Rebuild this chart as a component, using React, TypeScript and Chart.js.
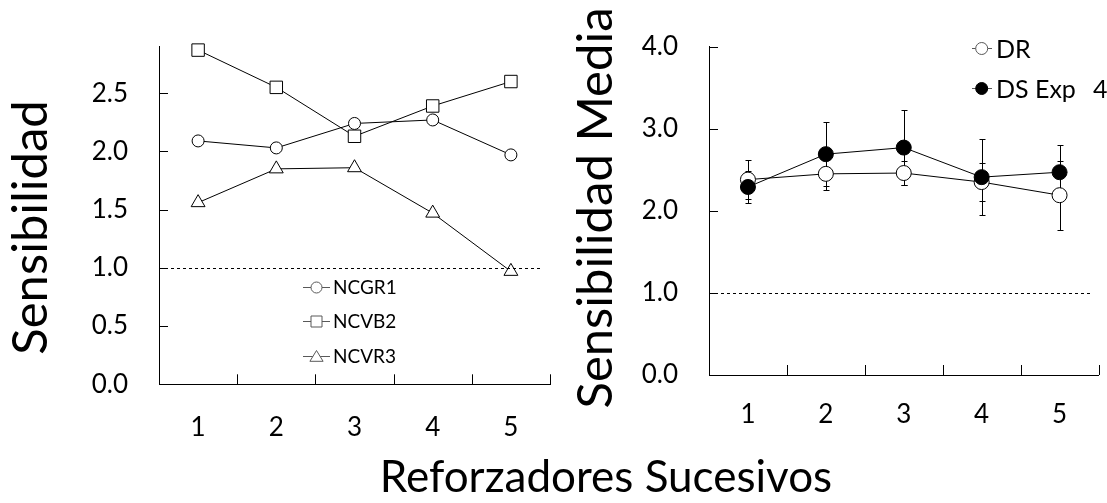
import React, { useEffect, useRef } from "react";
import { Chart, registerables } from "chart.js";

Chart.register(...registerables);

const FONT = "Lato, 'Open Sans', sans-serif";

// ---- data ----
const categories = ["1", "2", "3", "4", "5"];
const ncgr1 = [2.09, 2.03, 2.24, 2.27, 1.97];
const ncvb2 = [2.87, 2.55, 2.13, 2.39, 2.6];
const ncvr3 = [1.56, 1.85, 1.86, 1.47, 0.97];
const leftYTicks = [0, 0.5, 1.0, 1.5, 2.0, 2.5];
const leftYMax = 2.9;

const drMeans = [2.38, 2.45, 2.46, 2.35, 2.19];
const drErr = [0.24, 0.2, 0.15, 0.23, 0.42];
const dsMeans = [2.29, 2.69, 2.77, 2.41, 2.47];
const dsErr = [0.2, 0.39, 0.46, 0.46, 0.33];
const rightYTicks = [0, 1, 2, 3, 4];
const rightYMax = 4;

const referenceValue = 1.0;
const leftTitle = "Sensibilidad";
const rightTitle = "Sensibilidad Media";
const xTitle = "Reforzadores Sucesivos";
const leftLegend = ["NCGR1", "NCVB2", "NCVR3"];
const rightLegend = ["DR", "DS Exp"];

function drawMarker(ctx: CanvasRenderingContext2D, style: string, x: number, y: number, r: number, fill: string, stroke: string) {
  ctx.save();
  ctx.fillStyle = fill;
  ctx.strokeStyle = stroke;
  ctx.lineWidth = 1;
  ctx.beginPath();
  if (style === "circle") {
    ctx.arc(x, y, r, 0, Math.PI * 2);
  } else if (style === "rect") {
    ctx.rect(x - r, y - r, 2 * r, 2 * r);
  } else {
    ctx.moveTo(x, y - r);
    ctx.lineTo(x + r * 1.1, y + r * 0.8);
    ctx.lineTo(x - r * 1.1, y + r * 0.8);
    ctx.closePath();
  }
  ctx.fill();
  ctx.stroke();
  ctx.restore();
}

function inwardTicks(chart: any, skipTop: boolean) {
  const ctx = chart.ctx as CanvasRenderingContext2D;
  const x = chart.scales.x;
  const y = chart.scales.y;
  const area = chart.chartArea;
  ctx.save();
  ctx.strokeStyle = "#000";
  ctx.lineWidth = 1;
  const n = x.ticks.length;
  for (let i = 1; i <= n; i++) {
    const px = Math.round(x.left + (i * x.width) / n) + 0.5;
    ctx.beginPath();
    ctx.moveTo(px, area.bottom);
    ctx.lineTo(px, area.bottom - 10);
    ctx.stroke();
  }
  y.ticks.forEach((t: any) => {
    if (t.value === 0) return;
    const py = Math.round(y.getPixelForValue(t.value)) + 0.5;
    ctx.beginPath();
    ctx.moveTo(area.left, py);
    ctx.lineTo(area.left + 9, py);
    ctx.stroke();
  });
  if (!skipTop) {
    const py = Math.round(area.top) + 0.5;
    ctx.beginPath();
    ctx.moveTo(area.left, py);
    ctx.lineTo(area.left + 9, py);
    ctx.stroke();
  }
  // dashed reference line
  const ry = Math.round(y.getPixelForValue(referenceValue)) + 0.5;
  ctx.setLineDash([3, 3]);
  ctx.beginPath();
  ctx.moveTo(area.left, ry);
  ctx.lineTo(area.right - 7, ry);
  ctx.stroke();
  ctx.restore();
}

function drawYTitle(ctx: CanvasRenderingContext2D, text: string, cx: number, cy: number, size: number) {
  ctx.save();
  ctx.translate(cx, cy);
  ctx.rotate(-Math.PI / 2);
  ctx.font = `${size}px ${FONT}`;
  ctx.fillStyle = "#000";
  ctx.textAlign = "center";
  ctx.textBaseline = "middle";
  ctx.fillText(text, 0, 0);
  ctx.restore();
}

const leftDecor = {
  id: "leftDecor",
  afterDraw(chart: any) {
    const ctx = chart.ctx as CanvasRenderingContext2D;
    inwardTicks(chart, true);
    // legend
    const styles = ["circle", "rect", "triangle"];
    const ys = [287, 321, 356];
    const radii = [5.5, 5.5, 6];
    ctx.save();
    leftLegend.forEach((name, i) => {
      ctx.strokeStyle = "#595959";
      ctx.lineWidth = 1;
      ctx.beginPath();
      ctx.moveTo(303, ys[i] + 0.5);
      ctx.lineTo(330, ys[i] + 0.5);
      ctx.stroke();
      drawMarker(ctx, styles[i], 316.5, ys[i] + 0.5, radii[i], "#fff", "#595959");
      ctx.font = `19px ${FONT}`;
      ctx.fillStyle = "#000";
      ctx.textAlign = "left";
      ctx.textBaseline = "middle";
      ctx.fillText(name, 333, ys[i] + 1);
    });
    ctx.restore();
    drawYTitle(ctx, leftTitle, 31, 227.5, 49);
  },
};

const rightDecor = {
  id: "rightDecor",
  beforeDatasetsDraw(chart: any) {
    const ctx = chart.ctx as CanvasRenderingContext2D;
    const x = chart.scales.x;
    const y = chart.scales.y;
    ctx.save();
    ctx.strokeStyle = "#000";
    ctx.lineWidth = 1;
    const series = [
      { m: drMeans, e: drErr },
      { m: dsMeans, e: dsErr },
    ];
    series.forEach((s) => {
      s.m.forEach((v, i) => {
        const px = Math.round(x.getPixelForValue(i)) + 0.5;
        const top = Math.round(y.getPixelForValue(v + s.e[i])) + 0.5;
        const bot = Math.round(y.getPixelForValue(v - s.e[i])) + 0.5;
        ctx.beginPath();
        ctx.moveTo(px, top);
        ctx.lineTo(px, bot);
        ctx.moveTo(px - 3, top);
        ctx.lineTo(px + 3, top);
        ctx.moveTo(px - 3, bot);
        ctx.lineTo(px + 3, bot);
        ctx.stroke();
      });
    });
    ctx.restore();
  },
  afterDraw(chart: any) {
    const ctx = chart.ctx as CanvasRenderingContext2D;
    inwardTicks(chart, false);
    const ys = [48.5, 88.5];
    const fills = ["#fff", "#000"];
    const strokes = ["#595959", "#000"];
    ctx.save();
    rightLegend.forEach((name, i) => {
      ctx.strokeStyle = "#595959";
      ctx.lineWidth = 1;
      ctx.beginPath();
      ctx.moveTo(412, ys[i]);
      ctx.lineTo(432, ys[i]);
      ctx.stroke();
      drawMarker(ctx, "circle", 421.7, ys[i], 6, fills[i], strokes[i]);
      ctx.font = `25px ${FONT}`;
      ctx.fillStyle = "#000";
      ctx.textAlign = "left";
      ctx.textBaseline = "middle";
      ctx.fillText(name, 436, ys[i] + 1);
    });
    ctx.fillText("4", 533, ys[1] + 1);
    ctx.restore();
    drawYTitle(ctx, rightTitle, 36, 208, 49);
  },
};

function lineSet(label: string, data: number[], style: string, radius: number, fill: string) {
  return {
    label,
    data,
    borderColor: "#000",
    borderWidth: 1,
    pointStyle: style,
    pointRadius: radius,
    pointBackgroundColor: fill,
    pointBorderColor: "#000",
    pointBorderWidth: 1,
    tension: 0,
    clip: false as any,
    fill: false,
  };
}

function scalesFor(yTicks: number[], yMax: number, yWidth: number, xHeight: number, xPad: number) {
  return {
    x: {
      type: "category" as const,
      offset: true,
      grid: { display: false, drawTicks: false, offset: true },
      border: { display: true, color: "#000", width: 1 },
      ticks: { font: { family: FONT, size: 26 }, color: "#000", padding: xPad, maxRotation: 0, autoSkip: false },
      afterFit: (s: any) => {
        s.height = xHeight;
      },
    },
    y: {
      type: "linear" as const,
      min: 0,
      max: yMax,
      afterBuildTicks: (s: any) => {
        s.ticks = yTicks.map((v) => ({ value: v }));
      },
      grid: { display: false, drawTicks: false },
      border: { display: true, color: "#000", width: 1 },
      ticks: {
        font: { family: FONT, size: 26 },
        color: "#000",
        padding: 31,
        callback: (v: any) => Number(v).toFixed(1),
      },
      afterFit: (s: any) => {
        s.width = yWidth;
      },
    },
  };
}

export default function App() {
  const leftRef = useRef<HTMLCanvasElement>(null);
  const rightRef = useRef<HTMLCanvasElement>(null);

  useEffect(() => {
    const left = new Chart(leftRef.current!, {
      type: "line",
      data: {
        labels: categories,
        datasets: [
          lineSet(leftLegend[0], ncgr1, "circle", 6, "#fff"),
          lineSet(leftLegend[1], ncvb2, "rect", 8.8, "#fff"),
          lineSet(leftLegend[2], ncvr3, "triangle", 8, "#fff"),
        ] as any,
      },
      options: {
        animation: false,
        responsive: false,
        devicePixelRatio: 1,
        events: [],
        layout: { padding: { top: 43, right: 10, bottom: 0, left: 0 } },
        plugins: { legend: { display: false }, tooltip: { enabled: false } },
        scales: scalesFor(leftYTicks, leftYMax, 159, 65.7, 28) as any,
      },
      plugins: [leftDecor],
    });
    const right = new Chart(rightRef.current!, {
      type: "line",
      data: {
        labels: categories,
        datasets: [
          lineSet(rightLegend[1], dsMeans, "circle", 7.5, "#000"),
          lineSet(rightLegend[0], drMeans, "circle", 7.5, "#fff"),
        ] as any,
      },
      options: {
        animation: false,
        responsive: false,
        devicePixelRatio: 1,
        events: [],
        layout: { padding: { top: 33.3, right: 6.3, bottom: 0, left: 0 } },
        plugins: { legend: { display: false }, tooltip: { enabled: false } },
        scales: scalesFor(rightYTicks, rightYMax, 149, 75, 24) as any,
      },
      plugins: [rightDecor],
    });
    return () => {
      left.destroy();
      right.destroy();
    };
  }, []);

  return (
    <div
      style={{
        position: "absolute",
        left: 0,
        top: 0,
        width: 1107,
        height: 503,
        background: "#fff",
        overflow: "hidden",
      }}
    >
      <canvas ref={leftRef} width={560} height={450} style={{ position: "absolute", left: 0, top: 0 }} />
      <canvas ref={rightRef} width={547} height={450} style={{ position: "absolute", left: 560, top: 0 }} />
      <div
        style={{
          position: "absolute",
          left: 306,
          width: 600,
          top: 453,
          fontFamily: FONT,
          fontSize: 44,
          lineHeight: "44px",
          textAlign: "center",
          color: "#000",
          whiteSpace: "nowrap",
        }}
      >
        {xTitle}
      </div>
    </div>
  );
}
